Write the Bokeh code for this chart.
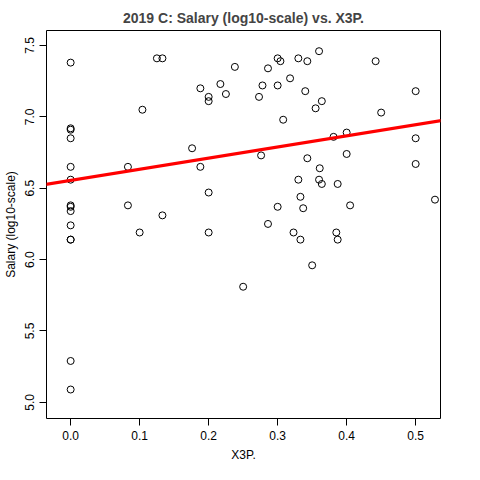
from bokeh.plotting import figure
from bokeh.models import Slope, FixedTicker, Range1d, NumeralTickFormatter
from bokeh.embed import file_html
from bokeh.resources import INLINE

x3p = [0, 0, 0, 0, 0, 0, 0, 0, 0, 0, 0, 0, 0, 0,
       0.083, 0.083, 0.1, 0.104, 0.125, 0.133, 0.133, 0.176, 0.188, 0.188,
       0.2, 0.2, 0.2, 0.2, 0.217, 0.225, 0.238, 0.25, 0.273, 0.276, 0.278,
       0.286, 0.286, 0.3, 0.3, 0.3, 0.304, 0.308, 0.318, 0.323, 0.33, 0.33,
       0.333, 0.333, 0.337, 0.34, 0.343, 0.343, 0.35, 0.355, 0.36, 0.36,
       0.361, 0.364, 0.364, 0.381, 0.385, 0.387, 0.387, 0.4, 0.4, 0.405,
       0.442, 0.45, 0.5, 0.5, 0.5, 0.528]
salary = [7.38, 6.92, 6.91, 6.85, 6.65, 6.56, 6.38, 6.37, 6.34, 6.24, 6.14, 6.14, 5.29, 5.09,
          6.65, 6.38, 6.19, 7.05, 7.41, 7.41, 6.31, 6.78, 7.2, 6.65,
          7.14, 7.11, 6.47, 6.19, 7.23, 7.16, 7.35, 5.81, 7.14, 6.73, 7.22,
          7.34, 6.25, 7.41, 7.22, 6.37, 7.39, 6.98, 7.27, 6.19, 7.41, 6.56,
          6.44, 6.14, 6.36, 7.18, 6.71, 7.39, 5.96, 7.06, 7.46, 6.56,
          6.64, 7.11, 6.53, 6.86, 6.19, 6.53, 6.14, 6.89, 6.74, 6.38,
          7.39, 7.03, 7.18, 6.85, 6.67, 6.42]
fit_intercept = 6.555
fit_slope = 0.78

p = figure(width=464, height=464, output_backend="svg", toolbar_location=None,
           title="2019 C: Salary (log10-scale) vs. X3P.",
           x_range=Range1d(-0.035, 0.536), y_range=Range1d(4.887, 7.605),
           min_border_left=40, min_border_right=24, min_border_top=30, min_border_bottom=10)

p.title.align = "center"
p.title.text_font = "Liberation Sans"
p.title.text_font_size = "14px"
p.title.text_font_style = "bold"
p.title.offset = 0

p.scatter(x3p, salary, size=7, fill_color=None, line_color="black", line_width=1)
p.add_layout(Slope(gradient=fit_slope, y_intercept=fit_intercept, line_color="red", line_width=3))

p.xgrid.visible = False
p.ygrid.visible = False
p.outline_line_color = "black"
p.outline_line_width = 1

p.xaxis.ticker = FixedTicker(ticks=[0, 0.1, 0.2, 0.3, 0.4, 0.5])
p.yaxis.ticker = FixedTicker(ticks=[5.0, 5.5, 6.0, 6.5, 7.0, 7.5])
p.xaxis.formatter = NumeralTickFormatter(format="0.0")
p.yaxis.formatter = NumeralTickFormatter(format="0.0")
p.yaxis.major_label_orientation = "vertical"
p.xaxis.axis_label = "X3P."
p.yaxis.axis_label = "Salary (log10-scale)"
for ax in (p.xaxis, p.yaxis):
    ax.axis_line_color = None
    ax.minor_tick_line_color = None
    ax.major_tick_out = 7
    ax.major_tick_in = 0
    ax.major_label_text_font = "Liberation Sans"
    ax.major_label_text_font_size = "12px"
    ax.major_label_text_color = "black"
    ax.axis_label_text_font = "Liberation Sans"
    ax.axis_label_text_font_size = "12px"
    ax.axis_label_text_font_style = "normal"
    ax.axis_label_text_color = "black"

open("out.html", "w").write(file_html(p, INLINE))
